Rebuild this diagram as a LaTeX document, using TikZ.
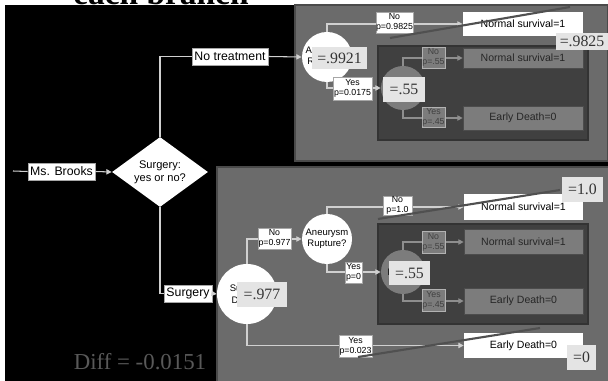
\documentclass[tikz,border=0pt]{standalone}
\usepackage{fontspec}
\setmainfont{Liberation Serif}
\setsansfont{Liberation Sans}
\usetikzlibrary{arrows.meta,shapes.geometric}
\newdimen\upx \upx=0.02cm
\definecolor{panel}{HTML}{6B6B6B}
\definecolor{panelrule}{HTML}{4A4A4A}
\definecolor{inner}{HTML}{404040}
\definecolor{chance}{HTML}{7C7C7C}
\definecolor{wire}{HTML}{D0D0D0}
\definecolor{dimwire}{HTML}{8E8E8E}
\definecolor{valfill}{HTML}{E4E4E4}
\definecolor{pointer}{HTML}{505050}

\begin{document}
\begin{tikzpicture}[x=0.02cm,y=-0.02cm,
  sz/.style 2 args={minimum width=#1\upx, minimum height=#2\upx},
  labelbox/.style={draw=gray!70, fill=white, inner sep=0pt, align=center,
    font=\sffamily\fontsize{7}{8}\selectfont},
  termbox/.style={fill=white, inner sep=0pt,
    font=\sffamily\fontsize{6}{7}\selectfont},
  grayterm/.style={fill=chance, draw=gray!60!black, inner sep=0pt, text=black!85,
    font=\sffamily\fontsize{6}{7}\selectfont},
  prob/.style={draw=gray!70, fill=white, inner sep=0pt, align=center,
    font=\sffamily\fontsize{5}{5.6}\selectfont},
  grayprob/.style={draw=gray!60, fill=chance, inner sep=0pt, align=center, text=black!75,
    font=\sffamily\fontsize{5}{5.6}\selectfont},
  chancenode/.style={circle, fill=white, inner sep=0pt, align=center,
    font=\sffamily\fontsize{5.4}{6.4}\selectfont},
  graychance/.style={circle, fill=chance, inner sep=0pt, align=center,
    font=\sffamily\fontsize{5.4}{6.4}\selectfont},
  valbox/.style={fill=valfill, inner sep=0pt, text=black!80,
    font=\fontsize{9}{10}\selectfont},
  wireline/.style={draw=wire, line width=0.6pt},
  wirearrow/.style={wireline, -{Triangle[length=3pt,width=3pt]}},
  dimarrow/.style={draw=dimwire, line width=0.6pt, -{Triangle[length=3pt,width=3pt]}},
  pointerline/.style={draw=pointer, line width=1.2pt}]

\useasboundingbox (0,0) rectangle (608,381);
\fill[white] (0,0) rectangle (608,381);

% heading, running off the top edge
\begin{scope}
  \clip (0,0) rectangle (608,5);
  \node[anchor=base, font=\bfseries\fontsize{19}{21}\selectfont] (heading) at (161,4.5) {each branch};
\end{scope}

% backdrop and the two sub-tree panels
\fill[black] (5,5) rectangle (608,381);
\filldraw[fill=panel, draw=panelrule, line width=0.6pt] (295,5) rectangle (608,161);
\filldraw[fill=panel, draw=panelrule, line width=0.6pt] (217,167) rectangle (609,382);
\filldraw[fill=inner, draw=black!80, line width=0.6pt] (378,46) rectangle (588,140);
\filldraw[fill=inner, draw=black!80, line width=0.6pt] (378,224) rectangle (588,324);

% root decision
\coordinate (entry) at (13,171);
\node[labelbox, sz={67}{17}] (brooks) at (61.5,171.5) {Ms. Brooks};
\node[diamond, aspect=1.4, fill=white, inner sep=0pt, sz={96}{70}, align=center,
  font=\sffamily\fontsize{6.3}{7.6}\selectfont] (choice) at (160,172) {Surgery:\\yes or no?};
\node[labelbox, sz={76}{17}] (notreat) at (230,56.5) {No treatment};
\node[labelbox, sz={48}{17}] (surgery) at (188,293.5) {Surgery};

% no-treatment branch
\node[chancenode, minimum size=50\upx] (ruptA) at (327,57) {Aneurysm\\Rupture?};
\node[graychance, minimum size=44\upx] (deathA) at (403,88) {Death?};
\node[termbox, sz={120}{24}] (survA) at (523,24) {Normal survival=1};
\node[grayterm, sz={120}{20}] (survA2) at (523,58) {Normal survival=1};
\node[grayterm, sz={120}{24}] (earlyA) at (523,118) {Early Death=0};

% surgery branch
\node[chancenode, minimum size=60\upx] (surgdeath) at (247,294) {Surgical\\Death?};
\node[chancenode, minimum size=50\upx] (ruptB) at (327,239) {Aneurysm\\Rupture?};
\node[graychance, minimum size=44\upx] (deathB) at (403,272) {Death?};
\node[termbox, sz={119}{26}] (survB) at (523.5,207) {Normal survival=1};
\node[grayterm, sz={119}{25}] (survB2) at (523.5,242) {Normal survival=1};
\node[grayterm, sz={119}{26}] (earlyB2) at (523.5,301) {Early Death=0};
\node[termbox, sz={119}{25}] (earlyB) at (523.5,345.5) {Early Death=0};

% connectors
\draw[wireline] (entry) -- (brooks.west);
\draw[wirearrow] (brooks.east) -- (choice.west);
\draw[wireline] (choice.north) |- (notreat.west);
\draw[wirearrow] (notreat.east) -- (ruptA.west);
\draw[wireline] (choice.south) |- (surgery.west);
\draw[wirearrow] (surgery.east) -- (surgdeath.west);

\draw[wirearrow] (ruptA.north) |- (survA.west);
\draw[wirearrow] (ruptA.south) |- (deathA.west);
\draw[dimarrow] (deathA.north) |- (survA2.west);
\draw[dimarrow] (deathA.south) |- (earlyA.west);

\draw[wirearrow] (surgdeath.north) |- (ruptB.west);
\draw[wirearrow] (surgdeath.south) |- (earlyB.west);
\draw[wirearrow] (ruptB.north) |- (survB.west);
\draw[wirearrow] (ruptB.south) |- (deathB.west);
\draw[dimarrow] (deathB.north) |- (survB2.west);
\draw[dimarrow] (deathB.south) |- (earlyB2.west);

% branch probabilities
\node[prob, sz={37}{21}] (pA1) at (394.5,22.5) {No\\p=0.9825};
\node[prob, sz={39}{23}] (pA2) at (352.5,88.5) {Yes\\p=0.0175};
\node[grayprob, sz={23}{21}] (pA3) at (433.5,57.5) {No\\p=.55};
\node[grayprob, sz={23}{20}] (pA4) at (433.5,117) {Yes\\p=.45};

\node[prob, sz={33}{21}] (pB1) at (274.5,238.5) {No\\p=0.977};
\node[prob, sz={33}{22}] (pB2) at (355.5,346) {Yes\\p=0.023};
\node[prob, sz={29}{19}] (pB3) at (397.5,205.5) {No\\p=1.0};
\node[prob, sz={17}{21}] (pB4) at (353.5,272.5) {Yes\\p=0};
\node[grayprob, sz={23}{22}] (pB5) at (433.5,242) {No\\p=.55};
\node[grayprob, sz={23}{22}] (pB6) at (433.5,300) {Yes\\p=.45};

% rolled-back values
\node[valbox, sz={55}{22}] (vA1) at (339.5,58) {=.9921};
\node[valbox, sz={42}{25}] (vA2) at (404,89.5) {=.55};
\node[valbox, sz={50}{25}] (vB1) at (262,294.5) {=.977};
\node[valbox, sz={41}{24}] (vB2) at (409.5,273) {=.55};

\coordinate (ptrA0) at (390,38);
\coordinate (ptrA1) at (570,7);
\coordinate (ptrB0) at (378,219);
\coordinate (ptrB1) at (560,190);
\coordinate (ptrC0) at (358,357);
\coordinate (ptrC1) at (540,328);
\draw[pointerline] (ptrA0) -- (ptrA1);
\draw[pointerline] (ptrB0) -- (ptrB1);
\draw[pointerline] (ptrC0) -- (ptrC1);

\node[valbox, sz={52}{17}] (vA3) at (582,41.5) {=.9825};
\node[valbox, sz={41}{25}] (vB3) at (582.5,189.5) {=1.0};
\node[valbox, sz={29}{25}] (vB4) at (581.5,357.5) {=0};

\node[text=black!65, font=\fontsize{13}{15}\selectfont] (diff) at (140,362) {Diff = -0.0151};
\end{tikzpicture}
\end{document}
